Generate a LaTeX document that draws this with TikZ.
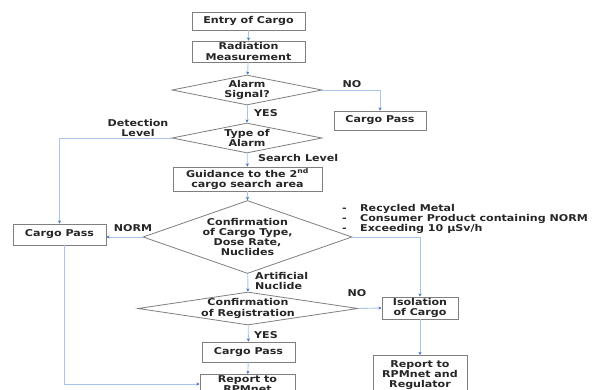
\documentclass[tikz,border=0pt]{standalone}
\usepackage{fontspec}
\setmainfont{DejaVu Sans}[FakeStretch=1.18]
\usetikzlibrary{shapes.geometric,arrows.meta,positioning,calc}
\definecolor{edge}{HTML}{7F7F7F}
\definecolor{link}{HTML}{A9C4EB}
\definecolor{tip}{HTML}{4472C4}
\definecolor{ink}{HTML}{262626}
\tikzset{
  fnt/.style={font=\bfseries\fontsize{9.4}{10.2}\selectfont, text=ink},
  box/.style={draw=edge, line width=0.8pt, fill=white, rectangle, inner sep=0pt, fnt, align=center},
  dia/.style={draw=edge, line width=0.8pt, fill=white, diamond, inner sep=0pt},
  txt/.style={fnt, align=center, inner sep=0pt},
  lbl/.style={fnt, inner sep=0pt},
  arr/.style={draw=link, line width=0.9pt, -{Stealth[length=3.2pt,width=3.2pt,color=tip]}},
}
\begin{document}
\begin{tikzpicture}[x=1pt,y=-1pt]
\useasboundingbox (0,0) rectangle (599,390);
\clip (0,0) rectangle (599,390);
% boxes
\node[box, minimum width=113pt, minimum height=18pt] (entry) at (248.5,21) {Entry of Cargo};
\node[box, minimum width=113pt, minimum height=21pt] (radm) at (248.5,51.5) {Radiation\\Measurement};
\node[dia, minimum width=150pt, minimum height=30pt, label={[txt]center:{Alarm\\Signal?}}] (alarm) at (247,90) {};
\node[box, minimum width=92pt, minimum height=19pt] (pass1) at (380,120.5) {Cargo Pass};
\node[dia, minimum width=150pt, minimum height=30pt, label={[txt]center:{Type of\\Alarm}}] (type) at (247,138) {};
\node[box, minimum width=149pt, minimum height=24pt] (guide) at (247.5,179) {Guidance to the 2\textsuperscript{nd}\\cargo search area};
\node[dia, minimum width=209pt, minimum height=73pt, label={[txt]center:{Confirmation\\of Cargo Type,\\Dose Rate,\\Nuclides}}] (conf) at (247.5,237) {};
\node[box, minimum width=93pt, minimum height=21pt] (passL) at (59.5,234.5) {Cargo Pass};
\node[dia, minimum width=220pt, minimum height=33pt, label={[txt]center:{Confirmation\\of Registration}}] (reg) at (248,308.5) {};
\node[box, minimum width=76pt, minimum height=22pt] (iso) at (420,308) {Isolation\\of Cargo};
\node[box, minimum width=93pt, minimum height=20pt] (pass2) at (248.5,352) {Cargo Pass};
\node[box, minimum width=95pt, inner ysep=1.5pt, anchor=north] (rep1) at (247.5,374) {Report to\\RPMnet};
\node[box, minimum width=94pt, minimum height=39pt, anchor=north] (rep2) at (420,355) {Report to\\RPMnet and\\Regulator};
% labels
\node[lbl] (lno1) at (352,84) {NO};
\node[lbl] (lyes1) at (266,113) {YES};
\node[txt] (ldet) at (138,128) {Detection\\Level};
\node[lbl, anchor=west] (lsearch) at (258,158) {Search Level};
\node[lbl] (lnorm) at (133,228) {NORM};
\node[txt, align=left, anchor=north west] (lart) at (255,272) {Artificial\\Nuclide};
\node[lbl] (lno2) at (357,293) {NO};
\node[lbl] (lyes2) at (266,335) {YES};
\node[fnt, align=left, anchor=north west, inner sep=0pt] (lbul) at (342,204) {%
\makebox[18pt][l]{-}Recycled Metal\\
\makebox[18pt][l]{-}Consumer Product containing NORM\\
\makebox[18pt][l]{-}Exceeding 10 µSv/h};
% connectors
\draw[arr] (entry) -- (radm);
\draw[arr] (radm) -- (alarm);
\draw[arr] (alarm.east) -| (pass1.north);
\draw[arr] (alarm) -- (type);
\draw[arr] (type.west) -| (passL.north);
\draw[arr] (type) -- (guide);
\draw[arr] (guide) -- (conf);
\draw[arr] (conf.west) -- (conf.west -| passL.east);
\draw[arr] (conf.east) -| (iso.north);
\draw[arr] (conf) -- (reg);
\draw[arr] (reg.east) -- (iso.west);
\draw[arr] (reg) -- (pass2);
\draw[arr] (pass2) -- (rep1);
\draw[arr] (iso) -- (rep2);
\coordinate (cdown) at ($(passL.south)+(4.5,0)$);
\coordinate (ccorner) at (64,384);
\draw[arr] (cdown) -- (ccorner) -- (ccorner -| rep1.west);
\end{tikzpicture}
\end{document}
